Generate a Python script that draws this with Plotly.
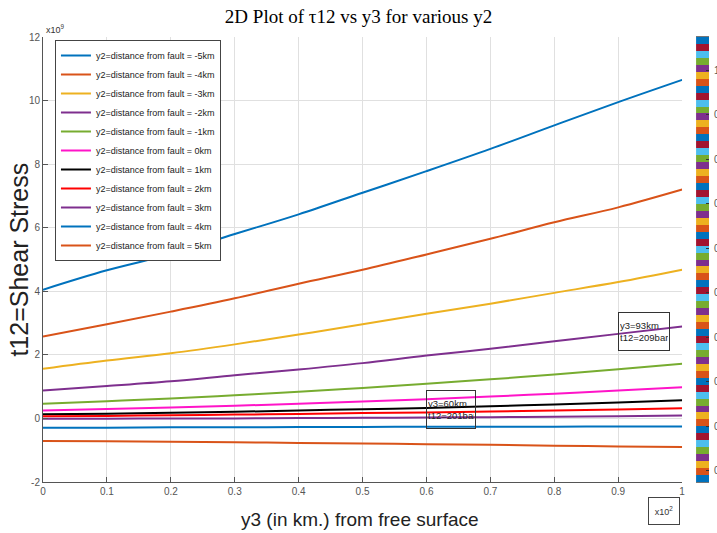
import plotly.graph_objects as go

# Depth below the free surface (axis shown in units of 10^2 km)
y3 = [0.0, 0.1, 0.2, 0.3, 0.4, 0.5, 0.6, 0.7, 0.8, 0.9, 1.0]

# Distance from the fault for each curve
y2_labels = ["-5km", "-4km", "-3km", "-2km", "-1km", "0km", "1km", "2km", "3km", "4km", "5km"]

# Shear stress tau12 (in units of 10^9)
tau_m5 = [4.05, 4.66, 5.17, 5.80, 6.42, 7.10, 7.78, 8.48, 9.22, 9.95, 10.65]
tau_m4 = [2.58, 2.96, 3.36, 3.78, 4.24, 4.68, 5.16, 5.65, 6.17, 6.64, 7.20]
tau_m3 = [1.56, 1.82, 2.05, 2.33, 2.64, 2.96, 3.29, 3.61, 3.95, 4.29, 4.68]
tau_m2 = [0.88, 1.02, 1.17, 1.36, 1.54, 1.74, 1.98, 2.19, 2.43, 2.66, 2.89]
tau_m1 = [0.46, 0.54, 0.63, 0.73, 0.84, 0.96, 1.09, 1.23, 1.38, 1.55, 1.72]
tau_0 = [0.25, 0.30, 0.34, 0.40, 0.46, 0.53, 0.60, 0.69, 0.78, 0.88, 0.98]
tau_p1 = [0.13, 0.15, 0.18, 0.21, 0.25, 0.29, 0.33, 0.38, 0.44, 0.50, 0.57]
tau_p2 = [0.07, 0.08, 0.10, 0.12, 0.14, 0.17, 0.19, 0.22, 0.25, 0.28, 0.32]
tau_p3 = [-0.01, -0.01, 0.00, 0.00, 0.01, 0.02, 0.03, 0.04, 0.05, 0.07, 0.09]
tau_p4 = [-0.29, -0.29, -0.28, -0.28, -0.27, -0.27, -0.26, -0.26, -0.26, -0.25, -0.25]
tau_p5 = [-0.71, -0.72, -0.73, -0.75, -0.77, -0.79, -0.81, -0.83, -0.86, -0.88, -0.90]

series = [tau_m5, tau_m4, tau_m3, tau_m2, tau_m1, tau_0, tau_p1, tau_p2, tau_p3, tau_p4, tau_p5]
line_colors = ["#0072BD", "#D95319", "#EDB120", "#7E2F8E", "#77AC30", "#FF14C8",
               "#000000", "#FF0000", "#7E2F8E", "#0072BD", "#D95319"]

# Axis ticks
x_ticks = [0.0, 0.1, 0.2, 0.3, 0.4, 0.5, 0.6, 0.7, 0.8, 0.9, 1.0]
x_tick_text = ["0", "0.1", "0.2", "0.3", "0.4", "0.5", "0.6", "0.7", "0.8", "0.9", "1"]
y_ticks = [-2, 0, 2, 4, 6, 8, 10, 12]
y_tick_text = ["-2", "0", "2", "4", "6", "8", "10", "12"]

# 'lines' colormap (64 entries) shown as the colour strip on the right
lines_base = ["#0072BD", "#D95319", "#EDB120", "#7E2F8E", "#77AC30", "#4DBEEE", "#A2142F"]
n_cmap = 64
cmap_index = list(range(n_cmap))
cbar_ticks = [1.6 + 6.4 * k for k in range(10)]
cbar_tick_text = ["0.1", "0.2", "0.3", "0.4", "0.5", "0.6", "0.7", "0.8", "0.9", "1"]

W, H = 717, 533
ML, MR, MT, MB = 43, 0, 37, 51
PW, PH = W - ML - MR, H - MT - MB


def px_x(p):
    return (p - ML) / PW


def px_y(p):
    return (H - MB - p) / PH


FONT = "Liberation Sans, Arial, sans-serif"
AXIS_GRAY = "#555555"

fig = go.Figure()

for lab, vals, col in zip(y2_labels, series, line_colors):
    fig.add_trace(go.Scatter(
        x=y3, y=vals, mode="lines", line=dict(color=col, width=2, shape="spline"),
        name="y2=distance from fault = " + lab, xaxis="x", yaxis="y",
    ))

# colour strip
cscale = [[i / (n_cmap - 1), lines_base[i % 7]] for i in cmap_index]
fig.add_trace(go.Heatmap(
    z=[[i] for i in cmap_index], x=[0], y=[i + 0.5 for i in cmap_index],
    zmin=0, zmax=n_cmap - 1, colorscale=cscale, showscale=False,
    xaxis="x2", yaxis="y2", hoverinfo="skip",
))

fig.update_layout(
    width=W, height=H,
    margin=dict(l=ML, r=MR, t=MT, b=MB),
    paper_bgcolor="white", plot_bgcolor="white",
    title=dict(text="2D Plot of τ12 vs y3 for various y2", x=0.5, xref="container",
               y=1 - 16 / H, yref="container", xanchor="center", yanchor="middle",
               font=dict(family="Liberation Serif, DejaVu Serif, serif", size=19, color="#000000")),
    xaxis=dict(domain=[0, px_x(685)], range=[0, 1], tickvals=x_ticks, ticktext=x_tick_text,
               showgrid=True, gridcolor="#e0e0e0", gridwidth=1, zeroline=False,
               showline=True, linecolor=AXIS_GRAY, linewidth=1,
               ticks="inside", ticklen=5, tickcolor=AXIS_GRAY,
               tickfont=dict(family=FONT, size=10, color=AXIS_GRAY), anchor="y"),
    yaxis=dict(domain=[0, 1], range=[-2, 12], tickvals=y_ticks, ticktext=y_tick_text,
               showgrid=True, gridcolor="#e0e0e0", gridwidth=1, zeroline=False,
               showline=True, linecolor=AXIS_GRAY, linewidth=1,
               ticks="inside", ticklen=5, tickcolor=AXIS_GRAY,
               tickfont=dict(family=FONT, size=10, color=AXIS_GRAY), anchor="x"),
    xaxis2=dict(domain=[px_x(699), px_x(712)], range=[-0.5, 0.5], anchor="y2",
                showticklabels=False, ticks="", showgrid=False, zeroline=False,
                showline=True, linecolor="#777777", linewidth=1, mirror=True),
    yaxis2=dict(domain=[0, 1], range=[0, n_cmap], anchor="x2", side="right",
                tickvals=cbar_ticks, ticktext=cbar_tick_text, ticks="inside", ticklen=3,
                tickcolor="#333333", showgrid=False, zeroline=False, showline=False,
                ticklabelstandoff=4,
                tickfont=dict(family=FONT, size=10, color=AXIS_GRAY), automargin=False),
    showlegend=True,
    legend=dict(x=px_x(55), y=px_y(40), xanchor="left", yanchor="top",
                bgcolor="white", bordercolor="#444444", borderwidth=1,
                font=dict(family=FONT, size=9, color="#222222"),
                itemwidth=30, tracegroupgap=0),
)

annotations = [
    dict(text="t12=Shear Stress", x=px_x(18), y=0.5, xref="paper", yref="paper",
         textangle=-90, showarrow=False, xanchor="center", yanchor="middle",
         font=dict(family=FONT, size=25, color="#222222")),
    dict(text="y3 (in km.) from free surface", x=px_x(361), y=px_y(519), xref="paper", yref="paper",
         showarrow=False, xanchor="center", yanchor="middle",
         font=dict(family=FONT, size=19, color="#222222")),
    dict(text="x10<sup>2</sup>", x=px_x(667), y=px_y(511), xref="paper", yref="paper",
         showarrow=False, xanchor="center", yanchor="middle", width=28, height=24,
         bordercolor="#444444", borderwidth=1, borderpad=1,
         font=dict(family=FONT, size=9, color="#333333")),
    dict(text="x10<sup>9</sup>", x=px_x(56), y=px_y(29), xref="paper", yref="paper",
         showarrow=False, xanchor="center", yanchor="middle",
         font=dict(family=FONT, size=9, color="#333333")),
    dict(text="y3=93km<br>t12=209bar", x=px_x(647), y=px_y(331.5), xref="paper", yref="paper",
         showarrow=False, xanchor="center", yanchor="middle", align="left", width=48, height=35,
         bordercolor="#333333", borderwidth=1, borderpad=1,
         font=dict(family=FONT, size=9.5, color="#222222")),
    dict(text="y3=60km<br>t12=201bar", x=px_x(452.5), y=px_y(409.5), xref="paper", yref="paper",
         showarrow=False, xanchor="center", yanchor="middle", align="left", width=46, height=35,
         bordercolor="#333333", borderwidth=1, borderpad=1,
         font=dict(family=FONT, size=9.5, color="#222222")),
]
fig.update_layout(annotations=annotations)

fig.write_html("out.html")
